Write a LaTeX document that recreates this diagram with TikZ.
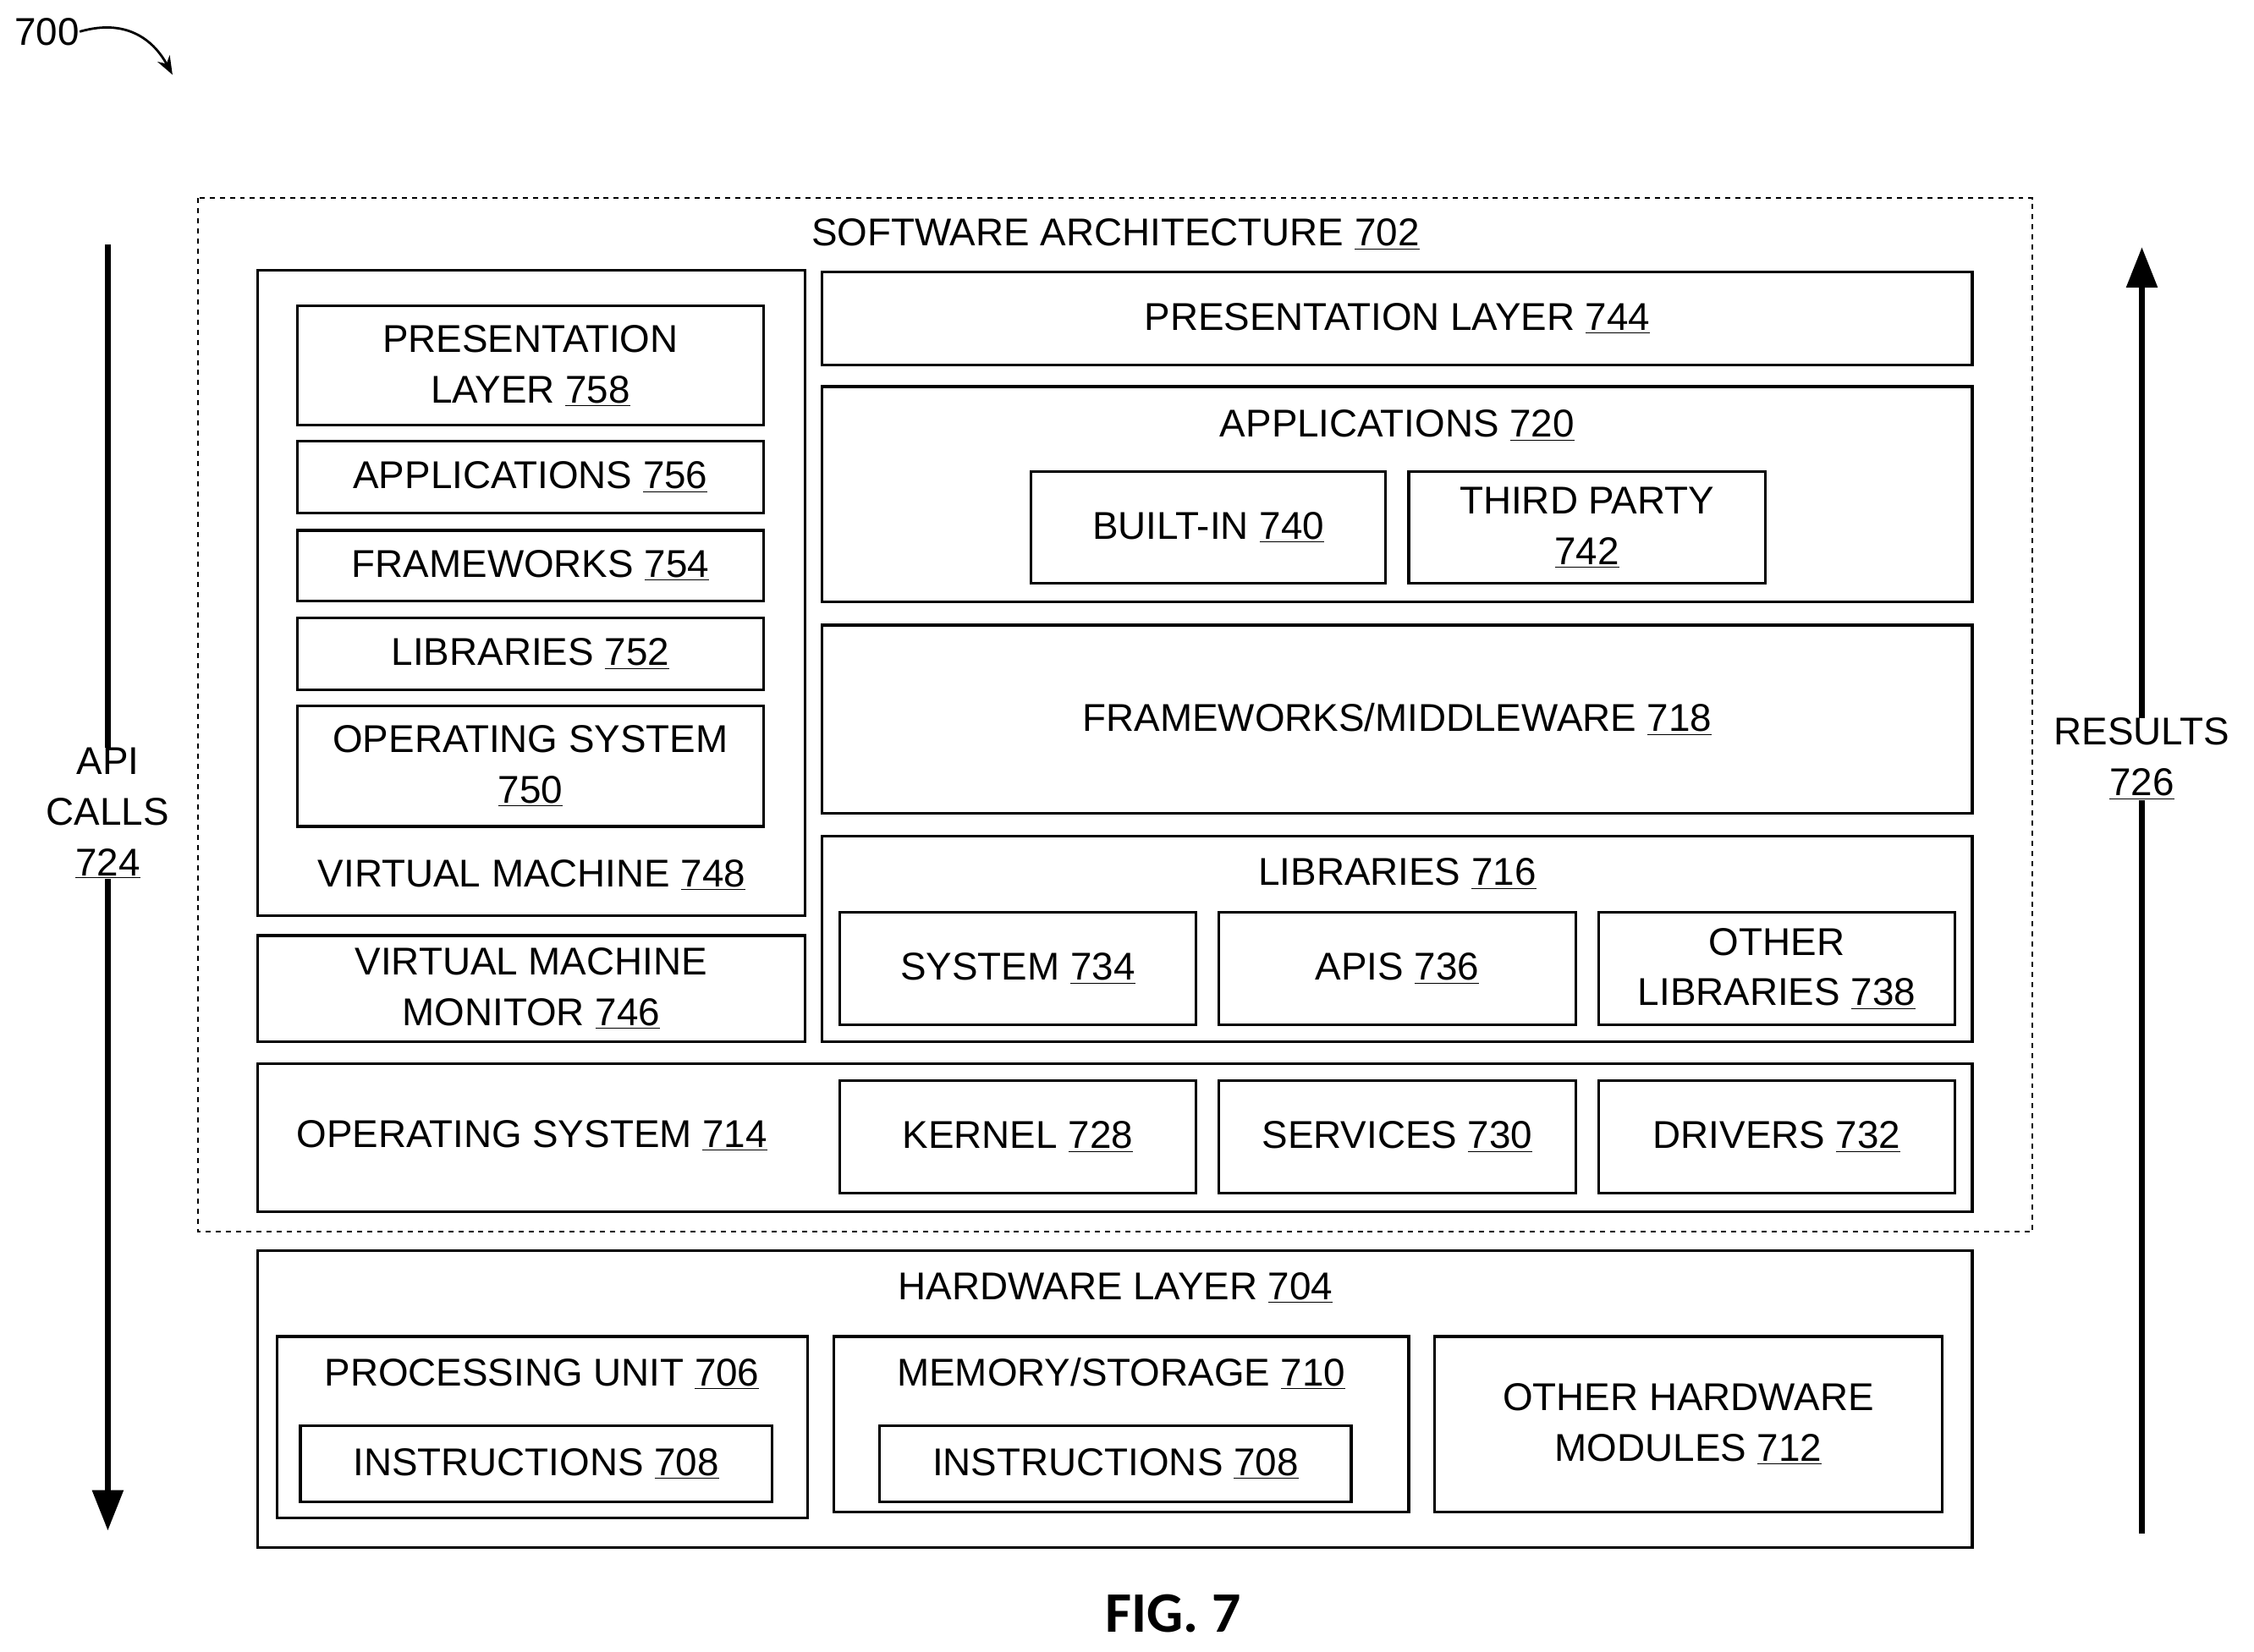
\documentclass[tikz,border=0pt]{standalone}
\usepackage{fontspec}
\setmainfont{Liberation Sans}
\newfontfamily\figfont{Carlito}
\usetikzlibrary{arrows.meta}
\newcommand{\un}[1]{\underline{#1}}
\begin{document}
\begin{tikzpicture}[x=0.03cm,y=-0.03cm,
  bx/.style={draw,line width=1.6pt,align=center,inner sep=0pt,font=\fontsize{23}{30}\selectfont},
  lbl/.style={align=center,inner sep=0pt,font=\fontsize{23}{30}\selectfont},
  arr/.style={line width=3.2pt,-{Triangle[length=24pt,width=18pt]}}]
\useasboundingbox (0,0) rectangle (1568,1149);
\newcommand{\bx}[6]{\node[bx,minimum width={(#4-#2)*0.03cm},minimum height={(#5-#3)*0.03cm}] (#1) at ({(#2+#4)/2},{(#3+#5)/2}) {#6};}
\draw[dashed,line width=1pt] (138,138) rectangle (1414,857);
\node[lbl] (sa) at (776,163) {SOFTWARE ARCHITECTURE \un{702}};
\bx{vm}{179}{188}{560}{637}{}
\node[lbl] (vml) at (370,609) {VIRTUAL MACHINE \un{748}};
\bx{p758}{207}{213}{531}{296}{PRESENTATION\\LAYER \un{758}}
\bx{a756}{207}{307}{531}{357}{APPLICATIONS \un{756}}
\bx{f754}{207}{369}{531}{418}{FRAMEWORKS \un{754}}
\bx{l752}{207}{430}{531}{480}{LIBRARIES \un{752}}
\bx{o750}{207}{491}{531}{575}{OPERATING SYSTEM\\\un{750}}
\bx{vmm}{179}{651}{560}{725}{VIRTUAL MACHINE\\MONITOR \un{746}}
\bx{p744}{572}{189}{1372}{254}{PRESENTATION LAYER \un{744}}
\bx{a720}{572}{269}{1372}{419}{}
\node[lbl] (a720l) at (972,296) {APPLICATIONS \un{720}};
\bx{b740}{717}{328}{964}{406}{BUILT-IN \un{740}}
\bx{t742}{980}{328}{1228}{406}{THIRD PARTY\\\un{742}}
\bx{f718}{572}{435}{1372}{566}{FRAMEWORKS/MIDDLEWARE \un{718}}
\bx{l716}{572}{582}{1372}{725}{}
\node[lbl] (l716l) at (972,608) {LIBRARIES \un{716}};
\bx{s734}{584}{635}{832}{713}{SYSTEM \un{734}}
\bx{a736}{848}{635}{1096}{713}{APIS \un{736}}
\bx{o738}{1112}{635}{1360}{713}{OTHER\\LIBRARIES \un{738}}
\bx{o714}{179}{740}{1372}{843}{}
\node[lbl] (o714l) at (370,790) {OPERATING SYSTEM \un{714}};
\bx{k728}{584}{752}{832}{830}{KERNEL \un{728}}
\bx{s730}{848}{752}{1096}{830}{SERVICES \un{730}}
\bx{d732}{1112}{752}{1360}{830}{DRIVERS \un{732}}
\bx{h704}{179}{870}{1372}{1077}{}
\node[lbl] (h704l) at (776,896) {HARDWARE LAYER \un{704}};
\bx{p706}{193}{930}{562}{1056}{}
\node[lbl] (p706l) at (377,956) {PROCESSING UNIT \un{706}};
\bx{i708a}{209}{992}{537}{1045}{INSTRUCTIONS \un{708}}
\bx{m710}{580}{930}{980}{1052}{}
\node[lbl] (m710l) at (780,956) {MEMORY/STORAGE \un{710}};
\bx{i708b}{612}{992}{940}{1045}{INSTRUCTIONS \un{708}}
\bx{o712}{998}{930}{1351}{1052}{OTHER HARDWARE\\MODULES \un{712}}
\node[lbl] (api) at (75,566) {API\\CALLS\\\un{724}};
\coordinate (apiT) at (75,170); \coordinate (apiB) at (75,1065);
\draw[line width=3.2pt] (apiT) -- (api.north);
\draw[arr] (api.south) -- (apiB);
\node[lbl] (res) at (1490,528) {RESULTS\\\un{726}};
\coordinate (resB) at (1490,1067); \coordinate (resT) at (1490,172);
\draw[line width=3.2pt] (resB) -- (res.south);
\draw[arr] (res.north) -- (resT);
\node[inner sep=0pt,font=\figfont\bfseries\fontsize{34}{40}\selectfont] (fig) at (816,1123) {FIG. 7};
\node[lbl,anchor=west] (n700) at (10,22) {700};
\coordinate (a700) at (120,52);
\draw[line width=1.4pt,-{Stealth[length=11pt]}] (n700.east) .. controls (90,12) and (108,30) .. (a700);
\end{tikzpicture}
\end{document}
